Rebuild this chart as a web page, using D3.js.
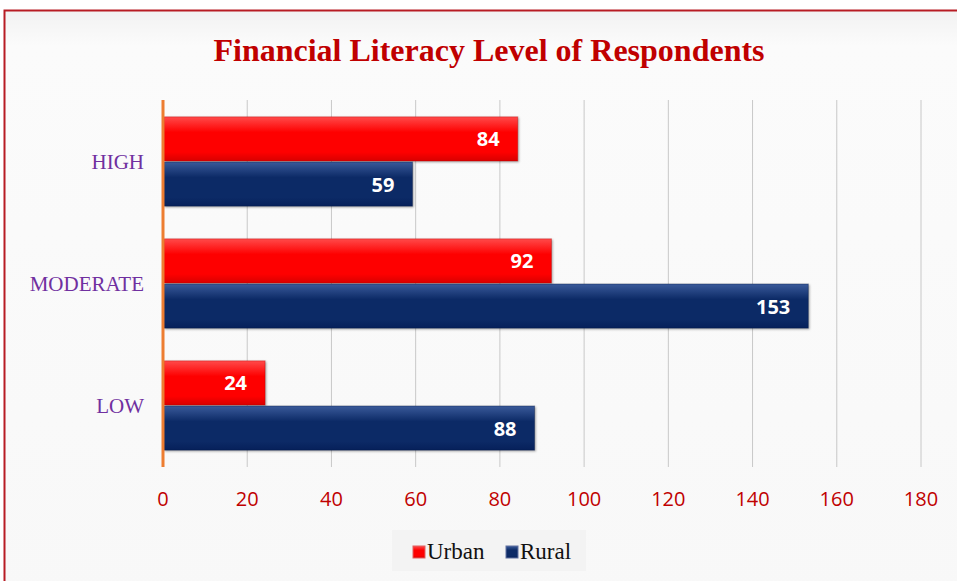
<!DOCTYPE html>
<html>
<head>
<meta charset="utf-8">
<script src="https://cdn.jsdelivr.net/npm/d3@7"></script>
<style>
  body { margin: 0; background: #fff; }
  svg { display: block; }
</style>
</head>
<body>
<svg id="chart"></svg>
<script>
const categories = ["HIGH", "MODERATE", "LOW"];
const seriesNames = ["Urban", "Rural"];
const urban = [84, 92, 24];
const rural = [59, 153, 88];
const xTicks = [0, 20, 40, 60, 80, 100, 120, 140, 160, 180];

const width = 957, height = 581;
const svg = d3.select("#chart").attr("width", width).attr("height", height);
const defs = svg.append("defs");

// background panel
const bg = defs.append("linearGradient").attr("id", "bgGrad").attr("x1", 0).attr("y1", 0).attr("x2", 0).attr("y2", 1);
bg.append("stop").attr("offset", "0").attr("stop-color", "#f2f2f2");
bg.append("stop").attr("offset", "0.06").attr("stop-color", "#fbfbfb");
bg.append("stop").attr("offset", "1").attr("stop-color", "#f8f8f8");

svg.append("rect")
    .attr("x", 4.5).attr("y", 10.5)
    .attr("width", width + 10).attr("height", height + 10)
    .attr("fill", "url(#bgGrad)")
    .attr("stroke", "#b81c24")
    .attr("stroke-width", 2);

// bar gradients
function barGradient(id, top, mid, bottom) {
    let g = defs.append("linearGradient").attr("id", id).attr("x1", 0).attr("y1", 0).attr("x2", 0).attr("y2", 1);
    g.append("stop").attr("offset", "0").attr("stop-color", top);
    g.append("stop").attr("offset", "0.35").attr("stop-color", mid);
    g.append("stop").attr("offset", "0.8").attr("stop-color", mid);
    g.append("stop").attr("offset", "1").attr("stop-color", bottom);
}
barGradient("urbanGrad", "#ff4a4a", "#fe0000", "#d80000");
barGradient("ruralGrad", "#3a5a9a", "#0c2a66", "#06205a");

const colors = { Urban: "url(#urbanGrad)", Rural: "url(#ruralGrad)" };
const edge = { Urban: "#c00000", Rural: "#051a48" };

const margin = { left: 163, right: 36, top: 100, bottom: 115 };
const plotW = width - margin.left - margin.right;
const plotH = height - margin.top - margin.bottom;

const x = d3.scaleLinear().domain([0, 180]).range([margin.left, margin.left + plotW]);
const y = d3.scaleBand().domain(categories).range([margin.top, margin.top + plotH]).paddingInner(0.26).paddingOuter(0.13);
const ySub = d3.scaleBand().domain(seriesNames).range([0, y.bandwidth()]);

// title
svg.append("text")
    .attr("x", 489).attr("y", 61)
    .attr("text-anchor", "middle")
    .attr("font-family", "Liberation Serif, Times New Roman, serif")
    .attr("font-weight", "bold")
    .attr("font-size", 32)
    .attr("fill", "#c00000")
    .text("Financial Literacy Level of Respondents");

// gridlines
svg.append("g").selectAll("line")
    .data(xTicks.slice(1))
    .join("line")
    .attr("x1", d => x(d)).attr("x2", d => x(d))
    .attr("y1", margin.top).attr("y2", margin.top + plotH + 1)
    .attr("stroke", "#c8c8c8")
    .attr("stroke-width", 1);

// x axis labels
svg.append("g").selectAll("text")
    .data(xTicks)
    .join("text")
    .attr("x", d => x(d))
    .attr("y", 506)
    .attr("text-anchor", "middle")
    .attr("font-family", "Open Sans, Liberation Sans, sans-serif")
    .attr("font-size", 20)
    .attr("fill", "#c00000")
    .text(d => d);

// category labels
svg.append("g").selectAll("text")
    .data(categories)
    .join("text")
    .attr("x", 144)
    .attr("y", d => y(d) + y.bandwidth() / 2 + 8)
    .attr("text-anchor", "end")
    .attr("font-family", "Liberation Serif, Times New Roman, serif")
    .attr("font-size", 21)
    .attr("fill", "#7030a0")
    .text(d => d);

// bars
const rows = [];
categories.forEach((c, i) => {
    rows.push({ cat: c, series: "Urban", value: urban[i] });
    rows.push({ cat: c, series: "Rural", value: rural[i] });
});

const bars = svg.append("g").selectAll("g")
    .data(rows)
    .join("g");

bars.append("rect")
    .attr("x", x(0) + 1)
    .attr("y", d => y(d.cat) + ySub(d.series) + 1)
    .attr("width", d => x(d.value) - x(0))
    .attr("height", ySub.bandwidth() - 1)
    .attr("fill", d => colors[d.series])
    .attr("stroke", d => edge[d.series])
    .attr("stroke-opacity", 0.4)
    .style("filter", "drop-shadow(1px 1px 1px rgba(0,0,0,0.35))");

bars.append("text")
    .attr("x", d => x(d.value) - 17)
    .attr("y", d => y(d.cat) + ySub(d.series) + ySub.bandwidth() / 2 + 8)
    .attr("text-anchor", "end")
    .attr("font-family", "Open Sans, Liberation Sans, sans-serif")
    .attr("font-weight", "bold")
    .attr("font-size", 20)
    .attr("fill", "#ffffff")
    .text(d => d.value);

// zero axis line
svg.append("line")
    .attr("x1", x(0)).attr("x2", x(0))
    .attr("y1", margin.top).attr("y2", margin.top + plotH + 1)
    .attr("stroke", "#ed7d31")
    .attr("stroke-width", 3);

// legend
const legend = svg.append("g").attr("transform", "translate(392,530)");
legend.append("rect")
    .attr("width", 194).attr("height", 41)
    .attr("fill", "#f3f3f3");
const legendItems = [
    { name: "Urban", dx: 20, fill: "url(#urbanGrad)", stroke: "#e06060" },
    { name: "Rural", dx: 113, fill: "url(#ruralGrad)", stroke: "#6070a0" }
];
const li = legend.selectAll("g.item")
    .data(legendItems)
    .join("g")
    .attr("transform", d => `translate(${d.dx},0)`);
li.append("rect")
    .attr("x", 1).attr("y", 16)
    .attr("width", 12).attr("height", 12)
    .attr("fill", d => d.fill)
    .attr("stroke", d => d.stroke);
li.append("text")
    .attr("x", 15).attr("y", 29)
    .attr("font-family", "Liberation Serif, Times New Roman, serif")
    .attr("font-size", 23)
    .attr("fill", "#111")
    .text(d => d.name);
</script>
</body>
</html>
